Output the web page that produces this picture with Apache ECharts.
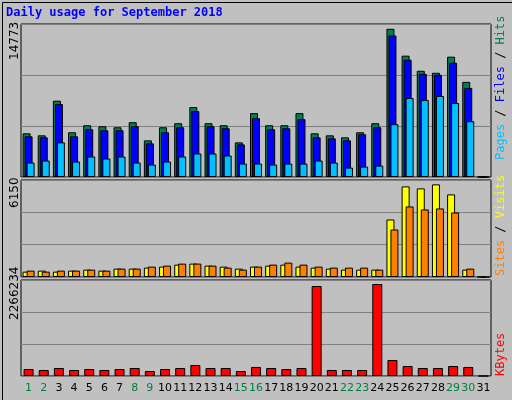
<!DOCTYPE html>
<html><head><meta charset="utf-8">
<script src="https://cdn.jsdelivr.net/npm/echarts@6/dist/echarts.min.js"></script>
<style>html,body{margin:0;padding:0;background:#c0c0c0}#c{width:512px;height:400px}</style>
</head><body><div id="c"></div>
<script>
const title = 'Daily usage for September 2018';
const days = Array.from({length:31},(_,i)=>String(i+1));
const weekendDays = ['1','2','8','9','15','16','22','23','29','30'];
const maxLabels = ['14773','6150','2266234'];
const hits = [4355,4154,7605,4456,5159,5059,4958,5461,3652,4958,5360,6968,5360,5159,3451,6365,5159,5159,6365,4355,4154,3953,4456,5360,14773,12094,10586,10385,11993,9481,0];
const files = [4054,3953,7270,4054,4757,4657,4657,5059,3350,4456,4958,6566,5059,4858,3250,5863,4757,4858,5762,3953,3853,3652,4255,4958,14104,11692,10285,10184,11390,8878,0];
const pages = [1440,1641,3450,1541,2043,1842,2043,1440,1240,1541,2043,2345,2345,2144,1340,1340,1240,1340,1340,1641,1440,938,1038,1139,5260,7872,7671,8073,7370,5561,0];
const visits = [355,422,355,422,488,422,555,555,622,688,821,888,755,688,555,688,755,821,688,622,555,488,488,488,3818,6016,5883,6150,5483,488,0];
const sites = [422,355,422,422,488,422,555,555,688,755,888,888,755,622,488,688,821,955,821,688,622,622,622,488,3152,4684,4484,4551,4285,555,0];
const kbytes = [172000,148000,197000,148000,172000,148000,172000,197000,123000,172000,197000,271000,197000,197000,123000,222000,197000,172000,197000,2217000,148000,148000,148000,2266234,394000,246000,197000,197000,246000,222000,0];

const chart = echarts.init(document.getElementById('c'), null, {renderer:'canvas'});
const grids = [{top:24,height:153},{top:180,height:97},{top:280,height:96}];
const maxes = [15250,6440,2364800];
const mono = 'DejaVu Sans Mono';
function bar(name, data, color, idx, w, gap){
  return {name, type:'bar', data, xAxisIndex:idx, yAxisIndex:idx, barWidth:w, barGap:gap,
    itemStyle:{color, borderColor:'#000', borderWidth:1}, animation:false};
}
chart.setOption({
  backgroundColor:'#c0c0c0',
  animation:false,
  grid: grids.map(g=>({left:21,width:470,top:g.top,height:g.height,show:true,
      backgroundColor:'#c0c0c0',borderColor:'#000',borderWidth:1})),
  xAxis: grids.map((g,i)=>({type:'category',gridIndex:i,data:days,
      axisLine:{show:false},axisTick:{show:false},
      axisLabel:{show:i===2,fontFamily:'DejaVu Sans',fontSize:11,margin:7,interval:0,
        color:(v)=>weekendDays.includes(v)?'#008040':'#000'}})),
  yAxis: grids.map((g,i)=>({type:'value',gridIndex:i,min:0,max:maxes[i],interval:maxes[i]/3,
      axisLine:{show:false},axisTick:{show:false},axisLabel:{show:false},
      splitLine:{lineStyle:{color:'#808080',width:1}}})),
  series:[
    bar('Hits',hits,'#008050',0,8,'-75%'),
    bar('Files',files,'#0000ff',0,8,'-75%'),
    bar('Pages',pages,'#00c0ff',0,8,'-75%'),
    bar('Visits',visits,'#ffff00',1,8,'-50%'),
    bar('Sites',sites,'#ff8000',1,8,'-50%'),
    bar('KBytes',kbytes,'#ff0000',2,10,'0%')
  ],
  graphic:[
    {type:'rect',left:0,top:0,shape:{width:511,height:399},style:{fill:'none',stroke:'#000',lineWidth:1},silent:true},
    {type:'text',left:6,top:7,style:{text:title,fill:'#0000ff',font:'bold 12px '+mono}},
    ...maxLabels.map((t,i)=>({type:'text',x:9,y:[60,208,320][i],rotation:Math.PI/2,
        style:{text:t,fill:'#000',font:'12px DejaVu Sans',textAlign:'left',textVerticalAlign:'top'}})),
    {type:'text',x:495,y:160,rotation:Math.PI/2,style:{rich:{p:{fill:'#00c0ff',font:'12px '+mono},f:{fill:'#0000ff',font:'12px '+mono},h:{fill:'#008050',font:'12px '+mono},s:{fill:'#000',font:'12px '+mono}},
        text:'{p|Pages}{s| / }{f|Files}{s| / }{h|Hits}',textVerticalAlign:'top'}},
    {type:'text',x:495,y:276,rotation:Math.PI/2,style:{rich:{o:{fill:'#ff8000',font:'12px '+mono},y:{fill:'#ffff00',font:'12px '+mono},s:{fill:'#000',font:'12px '+mono}},
        text:'{o|Sites}{s| / }{y|Visits}',textVerticalAlign:'top'}},
    {type:'text',x:495,y:376,rotation:Math.PI/2,style:{text:'KBytes',fill:'#ff0000',font:'12px '+mono,textVerticalAlign:'top'}}
  ]
});
</script></body></html>
